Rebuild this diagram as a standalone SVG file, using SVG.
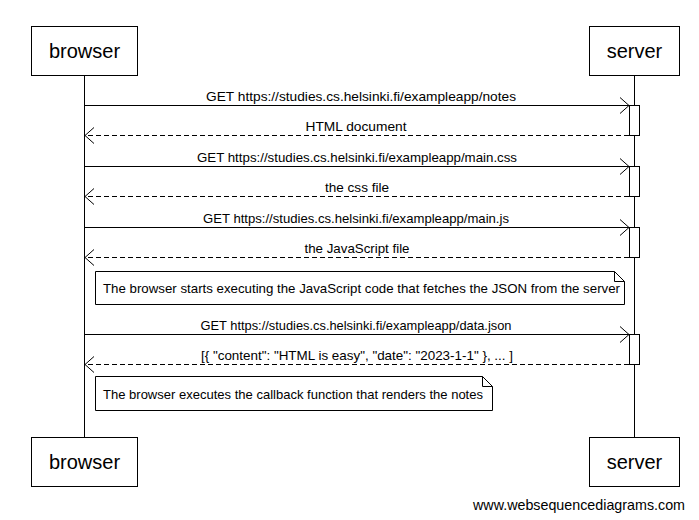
<svg xmlns="http://www.w3.org/2000/svg" width="699" height="520" viewBox="0 0 699 520">
<style>
.box{fill:#fff;stroke:#000;stroke-width:1}
.life{stroke:#000;stroke-width:1}
.act{fill:#fff;stroke:#000;stroke-width:1}
.msg{stroke:#000;stroke-width:1;fill:none}
.ret{stroke:#000;stroke-width:1;fill:none;stroke-dasharray:5,3}
.head{stroke:#000;stroke-width:1;fill:none}
.actor{font-family:"Liberation Sans",Arial,sans-serif;font-size:20px;text-anchor:middle;fill:#000}
.lbl{font-family:"Liberation Sans",Arial,sans-serif;font-size:13px;text-anchor:middle;fill:#000}
.note{font-family:"Liberation Sans",Arial,sans-serif;font-size:13px;fill:#000}
.wm{font-family:"Liberation Sans",Arial,sans-serif;font-size:15px;fill:#000}
</style>
<rect width="699" height="520" fill="#fff"/>
<g id="lifelines">
<line class="life" x1="84.5" y1="75" x2="84.5" y2="437"/>
<line class="life" x1="634.5" y1="75" x2="634.5" y2="437"/>
</g>
<g id="browser-top"><rect class="box" x="31.5" y="26.5" width="106" height="49"/><text class="actor" x="84.5" y="58">browser</text></g>
<g id="server-top"><rect class="box" x="589.5" y="26.5" width="90" height="49"/><text class="actor" x="634.5" y="58">server</text></g>
<g id="browser-bottom"><rect class="box" x="31.5" y="437.5" width="106" height="49"/><text class="actor" x="84.5" y="469">browser</text></g>
<g id="server-bottom"><rect class="box" x="589.5" y="437.5" width="90" height="49"/><text class="actor" x="634.5" y="469">server</text></g>
<g id="activations">
<rect class="act" x="629.5" y="105.5" width="10" height="30"/>
<rect class="act" x="629.5" y="166.5" width="10" height="30"/>
<rect class="act" x="629.5" y="227.5" width="10" height="30"/>
<rect class="act" x="629.5" y="334.5" width="10" height="30"/>
</g>
<g id="connectors">
<line class="msg" x1="84.5" y1="105.5" x2="629" y2="105.5"/><polyline class="head" points="620,97.5 629,105.5 620,113.5"/>
<text class="lbl" x="361" y="101" textLength="310" lengthAdjust="spacingAndGlyphs">GET https://studies.cs.helsinki.fi/exampleapp/notes</text>
<line class="ret" x1="629" y1="135.5" x2="85" y2="135.5"/><polyline class="head" points="94,127.5 85,135.5 94,143.5"/>
<text class="lbl" x="356" y="131" textLength="101" lengthAdjust="spacingAndGlyphs">HTML document</text>
<line class="msg" x1="84.5" y1="166.5" x2="629" y2="166.5"/><polyline class="head" points="620,158.5 629,166.5 620,174.5"/>
<text class="lbl" x="357" y="162" textLength="320" lengthAdjust="spacingAndGlyphs">GET https://studies.cs.helsinki.fi/exampleapp/main.css</text>
<line class="ret" x1="629" y1="196.5" x2="85" y2="196.5"/><polyline class="head" points="94,188.5 85,196.5 94,204.5"/>
<text class="lbl" x="357" y="192" textLength="64" lengthAdjust="spacingAndGlyphs">the css file</text>
<line class="msg" x1="84.5" y1="227.5" x2="629" y2="227.5"/><polyline class="head" points="620,219.5 629,227.5 620,235.5"/>
<text class="lbl" x="356" y="223" textLength="306" lengthAdjust="spacingAndGlyphs">GET https://studies.cs.helsinki.fi/exampleapp/main.js</text>
<line class="ret" x1="629" y1="257.5" x2="85" y2="257.5"/><polyline class="head" points="94,249.5 85,257.5 94,265.5"/>
<text class="lbl" x="357" y="253" textLength="105" lengthAdjust="spacingAndGlyphs">the JavaScript file</text>
<line class="msg" x1="84.5" y1="334.5" x2="629" y2="334.5"/><polyline class="head" points="620,326.5 629,334.5 620,342.5"/>
<text class="lbl" x="356" y="330" textLength="311" lengthAdjust="spacingAndGlyphs">GET https://studies.cs.helsinki.fi/exampleapp/data.json</text>
<line class="ret" x1="629" y1="364.5" x2="85" y2="364.5"/><polyline class="head" points="94,356.5 85,364.5 94,372.5"/>
<text class="lbl" x="357" y="360" textLength="312" lengthAdjust="spacingAndGlyphs">[{ "content": "HTML is easy", "date": "2023-1-1" }, ... ]</text>
</g>
<g id="note1">
<path class="box" d="M95.5,271.5 H614.5 L624.5,281.5 V304.5 H95.5 Z"/>
<path class="head" d="M614.5,271.5 V281.5 H624.5"/>
<text class="note" x="103" y="293" textLength="517" lengthAdjust="spacingAndGlyphs">The browser starts executing the JavaScript code that fetches the JSON from the server</text>
</g>
<g id="note2">
<path class="box" d="M95.5,376.5 H482.5 L492.5,386.5 V410.5 H95.5 Z"/>
<path class="head" d="M482.5,376.5 V386.5 H492.5"/>
<text class="note" x="103" y="399" textLength="380" lengthAdjust="spacingAndGlyphs">The browser executes the callback function that renders the notes</text>
</g>
<text class="wm" x="473" y="510" textLength="212" lengthAdjust="spacingAndGlyphs">www.websequencediagrams.com</text>
</svg>
